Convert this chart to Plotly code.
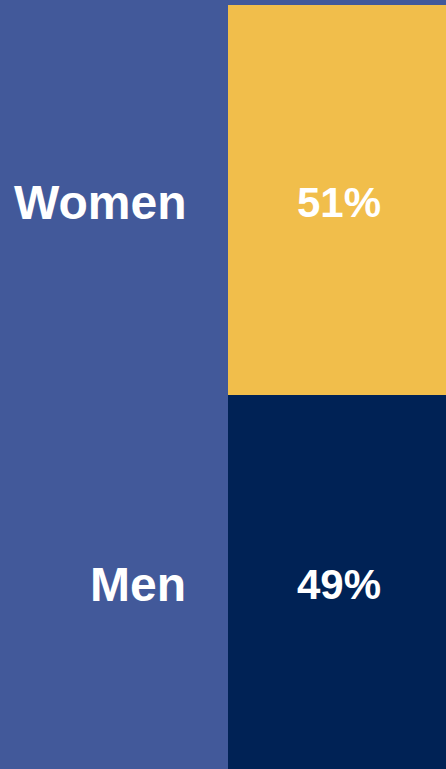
import plotly.graph_objects as go

# Gender split of the group, stacked in one column
groups = ["Men", "Women"]
shares = [49, 51]
colors = ["#002255", "#F1BE4B"]

BG = "#42599A"
FONT = "Liberation Sans, Arial, sans-serif"

fig = go.Figure()
for g, v, c in zip(groups, shares, colors):
    fig.add_trace(go.Bar(
        x=[0], y=[v], width=1, name=g,
        marker=dict(color=c, line=dict(width=0)),
        hoverinfo="skip",
    ))

# Group names to the left of the column and shares inside it,
# both centred on each segment
base = 0
for g, v in zip(groups, shares):
    mid = base + v / 2
    fig.add_annotation(
        x=-0.5, y=mid, xref="x", yref="y",
        text="<b>%s</b>" % g, showarrow=False,
        xanchor="right", yanchor="middle", xshift=-40, yshift=-3,
        font=dict(family=FONT, size=48, color="white"),
    )
    fig.add_annotation(
        x=0, y=mid, xref="x", yref="y",
        text="<b>%d%%</b>" % v, showarrow=False,
        xanchor="center", yanchor="middle", xshift=2, yshift=-3,
        font=dict(family=FONT, size=42, color="white"),
    )
    base += v

W, H = 446, 769
col_left, col_top = 228, 5
unit = W - col_left
x_span = W / unit
y_max = sum(shares) * H / (H - col_top)

fig.update_layout(
    barmode="stack",
    width=W, height=H,
    margin=dict(l=0, r=0, t=0, b=0),
    paper_bgcolor=BG, plot_bgcolor=BG,
    showlegend=False,
    xaxis=dict(range=[0.5 - x_span, 0.5], visible=False, fixedrange=True),
    yaxis=dict(range=[0, y_max], visible=False, fixedrange=True),
)

fig.write_html("out.html", config={"displayModeBar": False})
